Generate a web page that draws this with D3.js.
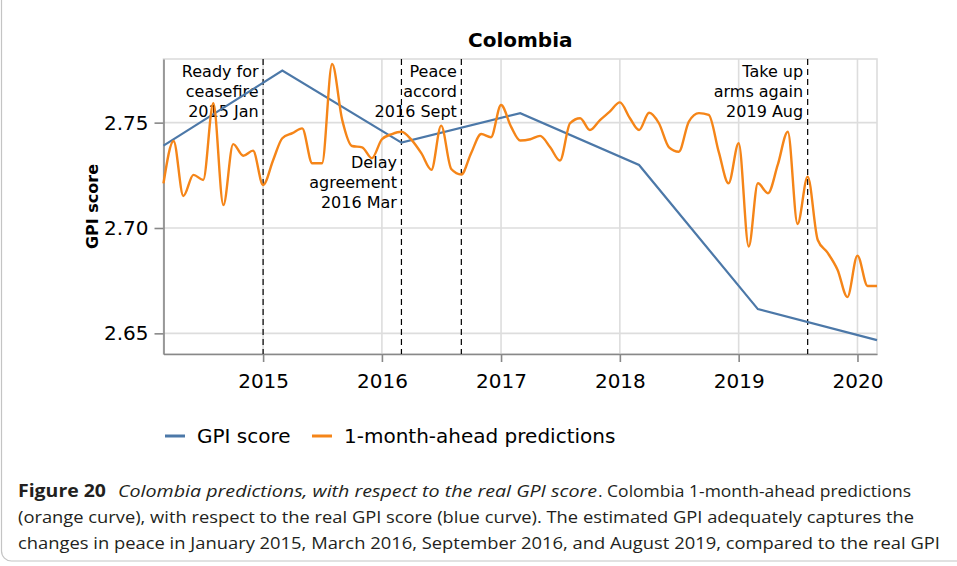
<!DOCTYPE html>
<html>
<head>
<meta charset="utf-8">
<script src="https://cdn.jsdelivr.net/npm/d3@7"></script>
<style>
  body { margin: 0; background: #fff; }
  svg { display: block; }
</style>
</head>
<body>
<div id="chart"></div>
<script>
// monthly 1-month-ahead predictions
const predMonths = [
  '2014-03','2014-04','2014-05','2014-06','2014-07','2014-08','2014-09','2014-10','2014-11','2014-12',
  '2015-01','2015-02','2015-03','2015-04','2015-05','2015-06','2015-07','2015-08','2015-09','2015-10','2015-11','2015-12',
  '2016-01','2016-02','2016-03','2016-04','2016-05','2016-06','2016-07','2016-08','2016-09','2016-10','2016-11','2016-12',
  '2017-01','2017-02','2017-03','2017-04','2017-05','2017-06','2017-07','2017-08','2017-09','2017-10','2017-11','2017-12',
  '2018-01','2018-02','2018-03','2018-04','2018-05','2018-06','2018-07','2018-08','2018-09','2018-10','2018-11','2018-12',
  '2019-01','2019-02','2019-03','2019-04','2019-05','2019-06','2019-07','2019-08','2019-09','2019-10','2019-11','2019-12',
  '2020-01','2020-02','2020-03'
]
const predValues = [
  2.7212, 2.7413, 2.7152, 2.7252, 2.7228, 2.7592, 2.7109, 2.7398, 2.7343, 2.7367,
  2.7204, 2.7323, 2.7426, 2.7450, 2.7473, 2.7307, 2.7307, 2.7778, 2.7513, 2.7389, 2.7383, 2.7331,
  2.7421, 2.7446, 2.7457, 2.7418, 2.7355, 2.7276, 2.7486, 2.7280, 2.7254, 2.7355, 2.7446, 2.7431,
  2.7584, 2.7480, 2.7415, 2.7421, 2.7437, 2.7383, 2.7320, 2.7497, 2.7521, 2.7465, 2.7512, 2.7552,
  2.7596, 2.7521, 2.7465, 2.7547, 2.7497, 2.7383, 2.7362, 2.7505, 2.7545, 2.7537, 2.7360, 2.7212,
  2.7402, 2.6912, 2.7212, 2.7165, 2.7299, 2.7457, 2.7019, 2.7244, 2.6943, 2.6883, 2.6801, 2.6672,
  2.6869, 2.6725, 2.6725
]

// yearly real GPI score
const gpiMonths = ['2014-03','2015-03','2016-03','2017-03','2018-03','2019-03','2020-03']
const gpiValues = [2.7391, 2.7747, 2.7405, 2.7545, 2.7299, 2.6615, 2.6468]

// events
const eventMonths = ['2015-01','2016-03','2016-09','2019-08']
const eventLabels = [
  ['Ready for','ceasefire','2015 Jan'],
  ['Delay','agreement','2016 Mar'],
  ['Peace','accord','2016 Sept'],
  ['Take up','arms again','2019 Aug']
]
const eventRow = [0, 1, 0, 0] // 1 = label sits lower

const xTicks = ['2015','2016','2017','2018','2019','2020']
const yTicks = [2.65, 2.70, 2.75]
const yDomain = [2.6402, 2.7802]
const xDomain = ['2014-03','2020-03']

const seriesNames = ['GPI score', '1-month-ahead predictions']
const colors = ['#4c78a8', '#f58518']

// caption segments: text, weight, style, x, width
const captionLines = [
  [['Figure 20', 'bold', 'normal', 18, 88],
   ['Colombia predictions, with respect to the real GPI score', 'normal', 'italic', 118, 479],
   ['. Colombia 1-month-ahead predictions', 'normal', 'normal', 598, 313]],
  [['(orange curve), with respect to the real GPI score (blue curve). The estimated GPI adequately captures the', 'normal', 'normal', 18, 896]],
  [['changes in peace in January 2015, March 2016, September 2016, and August 2019, compared to the real GPI', 'normal', 'normal', 18, 922]]
]

const W = 957, H = 566
const plot = { left: 163.5, right: 877, top: 59, bottom: 354 }
const font = 'DejaVu Sans, sans-serif'
const parse = d3.timeParse('%Y-%m')

const svg = d3.select('#chart').append('svg')
  .attr('width', W)
  .attr('height', H)

// figure frame
svg.append('rect')
  .attr('x', 1.5).attr('y', -30)
  .attr('width', W + 40).attr('height', 591)
  .attr('rx', 10)
  .style('fill', 'none')
  .style('stroke', '#c4c4c4')
  .style('stroke-width', 1.2)

const x = d3.scaleTime()
  .domain(xDomain.map(parse))
  .range([plot.left, plot.right])

const y = d3.scaleLinear()
  .domain(yDomain)
  .range([plot.bottom, plot.top])

// grid
const grid = svg.append('g')
grid.selectAll('.gx').data(xTicks).join('line')
  .attr('x1', d => x(parse(d + '-01'))).attr('x2', d => x(parse(d + '-01')))
  .attr('y1', plot.top).attr('y2', plot.bottom)
  .style('stroke', '#ddd').style('stroke-width', 1.6)
grid.selectAll('.gy').data(yTicks).join('line')
  .attr('x1', plot.left).attr('x2', plot.right)
  .attr('y1', d => y(d)).attr('y2', d => y(d))
  .style('stroke', '#ddd').style('stroke-width', 1.6)
grid.append('rect')
  .attr('x', plot.left).attr('y', plot.top)
  .attr('width', plot.right - plot.left).attr('height', plot.bottom - plot.top)
  .style('fill', 'none').style('stroke', '#ddd').style('stroke-width', 1.6)

// axes
svg.append('g')
  .attr('transform', `translate(0,${plot.bottom})`)
  .call(d3.axisBottom(x)
    .tickValues(xTicks.map(d => parse(d + '-01')))
    .tickFormat(d3.timeFormat('%Y'))
    .tickSize(8).tickPadding(12).tickSizeOuter(0))
svg.append('g')
  .attr('transform', `translate(${plot.left},0)`)
  .call(d3.axisLeft(y)
    .tickValues(yTicks)
    .tickFormat(d3.format('.2f'))
    .tickSize(9).tickPadding(6).tickSizeOuter(0))

svg.selectAll('.domain').style('stroke', '#888').style('stroke-width', 1.6)
svg.selectAll('.tick line').style('stroke', '#888').style('stroke-width', 1.6)
svg.selectAll('.tick text')
  .style('font-family', font).style('font-size', '20px').style('fill', '#000')

// event markers
eventMonths.forEach((m, i) => {
  const ex = x(parse(m))
  svg.append('line')
    .attr('x1', ex).attr('x2', ex)
    .attr('y1', plot.top).attr('y2', plot.bottom)
    .style('stroke', '#000')
    .style('stroke-width', 1.2)
    .style('stroke-dasharray', '6,4')
  const base = eventRow[i] ? 168 : 77
  svg.append('text')
    .attr('text-anchor', 'end')
    .style('font-family', font).style('font-size', '16px')
    .selectAll('tspan').data(eventLabels[i]).join('tspan')
    .attr('x', ex - 4.5)
    .attr('y', (d, j) => base + j * 20)
    .text(d => d)
})

// lines
const gpiLine = d3.line()
  .x((d, i) => x(parse(gpiMonths[i])))
  .y(d => y(d))
svg.append('path')
  .datum(gpiValues)
  .attr('d', gpiLine)
  .style('fill', 'none')
  .style('stroke', colors[0])
  .style('stroke-width', 2.2)

const predLine = d3.line()
  .x((d, i) => x(parse(predMonths[i])))
  .y(d => y(d))
  .curve(d3.curveMonotoneX)
svg.append('path')
  .datum(predValues)
  .attr('d', predLine)
  .style('fill', 'none')
  .style('stroke', colors[1])
  .style('stroke-width', 2.4)

// title + y label
svg.append('text')
  .attr('x', (plot.left + plot.right) / 2).attr('y', 47)
  .attr('text-anchor', 'middle')
  .style('font-family', font).style('font-size', '20px').style('font-weight', 'bold')
  .text('Colombia')

svg.append('text')
  .attr('transform', `translate(98,${(plot.top + plot.bottom) / 2}) rotate(-90)`)
  .attr('text-anchor', 'middle')
  .style('font-family', font).style('font-size', '16px').style('font-weight', 'bold')
  .text('GPI score')

// legend
const legendX = [165, 312]
seriesNames.forEach((name, i) => {
  svg.append('line')
    .attr('x1', legendX[i]).attr('x2', legendX[i] + 20)
    .attr('y1', 436).attr('y2', 436)
    .style('stroke', colors[i]).style('stroke-width', 3)
  svg.append('text')
    .attr('x', legendX[i] + 32).attr('y', 443)
    .style('font-family', font).style('font-size', '20px')
    .text(name)
})

// caption
captionLines.forEach((line, li) => {
  line.forEach(seg => {
    svg.append('text')
      .attr('x', seg[3]).attr('y', 497 + li * 26)
      .attr('textLength', seg[4])
      .attr('lengthAdjust', 'spacingAndGlyphs')
      .style('font-family', 'Liberation Sans Narrow, Open Sans, sans-serif')
      .style('font-size', '17px')
      .style('font-weight', seg[1])
      .style('font-style', seg[2])
      .style('fill', '#231f20')
      .text(seg[0])
  })
})
</script>
</body>
</html>
